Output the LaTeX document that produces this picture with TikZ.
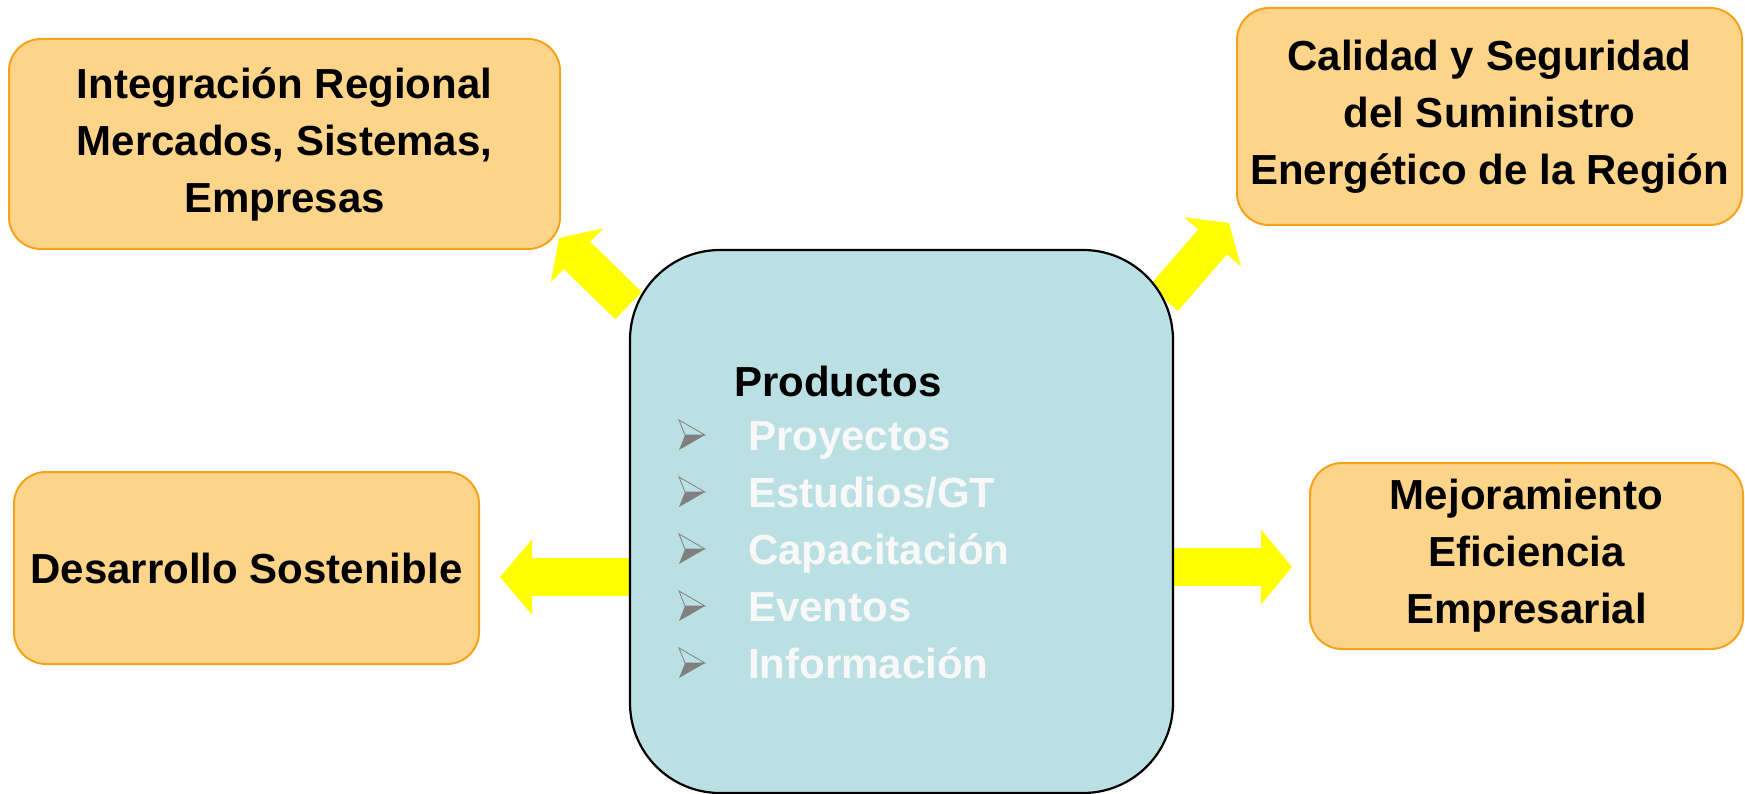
\documentclass[tikz,border=0pt]{standalone}
\usepackage{fontspec}
\setmainfont{Liberation Sans}
\usetikzlibrary{arrows.meta,backgrounds}

\definecolor{goalfill}{HTML}{FCD48A}
\definecolor{goalline}{HTML}{F7A21B}
\definecolor{prodfill}{HTML}{BBE0E3}
\definecolor{itemtext}{HTML}{F8F8F8}
\definecolor{markgray}{HTML}{808080}
\definecolor{flowyellow}{HTML}{FFFF00}

\newcommand{\labelfont}{\fontsize{42}{57}\selectfont\bfseries}

\tikzset{
  goal/.style={draw=goalline, fill=goalfill, line width=2pt,
    rounded corners=32pt, align=center, inner sep=0pt, font=\labelfont},
  prodbox/.style={draw=black, fill=prodfill, line width=2.2pt,
    rounded corners=90pt, minimum width=543pt, minimum height=543pt, inner sep=0pt},
  itemlabel/.style={inner sep=0pt, font=\labelfont, text=itemtext, anchor=base west},
  headlabel/.style={inner sep=0pt, font=\labelfont, text=black, anchor=base west},
  flow/.style={draw=flowyellow, line width=38pt,
    -{Triangle[length=#1, width=75pt, line width=0pt]}},
  flow/.default=31pt,
  bulletmark/.pic={
    \draw[markgray, line width=0.8pt, line join=miter] (-13,-15) -- (13,0) -- (-7,0) -- cycle;
    \fill[markgray] (-7,0) -- (13,0) -- (-13,15) -- cycle;
  }
}

\begin{document}
\begin{tikzpicture}[x=1pt, y=-1pt]
  \useasboundingbox (0,0) rectangle (1745,794);

  % central box with the list of products
  \node[prodbox] (prod) at (901.5,521.5) {};
  \node[headlabel] (head) at (734,396) {Productos};

  \pic (m1) at (692,435) {bulletmark};
  \pic (m2) at (692,492) {bulletmark};
  \pic (m3) at (692,549) {bulletmark};
  \pic (m4) at (692,606) {bulletmark};
  \pic (m5) at (692,663) {bulletmark};

  \node[itemlabel] (i1) at (748,450) {Proyectos};
  \node[itemlabel] (i2) at (748,507) {Estudios/GT};
  \node[itemlabel] (i3) at (748,564) {Capacitación};
  \node[itemlabel] (i4) at (748,621) {Eventos};
  \node[itemlabel] (i5) at (748,678) {Información};

  % outcome boxes
  \node[goal, minimum width=551pt, minimum height=210pt] (integ) at (284.5,144)
    {Integración Regional\\Mercados, Sistemas,\\Empresas};
  \node[goal, minimum width=505pt, minimum height=217pt] (calid) at (1489.5,116.5)
    {Calidad y Seguridad\\del Suministro\\Energético de la Región};
  \node[goal, minimum width=465pt, minimum height=192pt] (desar) at (246.5,568)
    {Desarrollo Sostenible};
  \node[goal, minimum width=433pt, minimum height=186pt] (mejor) at (1526.5,556)
    {Mejoramiento\\Eficiencia\\Empresarial};

  % arrow ends
  \coordinate (tl-s) at (628.5,305.5);
  \coordinate (tl-e) at (559,238);
  \coordinate (tr-s) at (1163.5,298.5);
  \coordinate (tr-e) at (1229,223);
  \coordinate (l-e) at (500,577);
  \coordinate (r-e) at (1292,567);

  % yellow block arrows out of the central box
  \begin{pgfonlayer}{background}
    \draw[flow=25pt] (tl-s) -- (tl-e);
    \draw[flow=25pt] (tr-s) -- (tr-e);
    \draw[flow=32pt] (prod.west |- l-e) -- (l-e);
    \draw[flow=31pt] (prod.east |- r-e) -- (r-e);
  \end{pgfonlayer}
\end{tikzpicture}
\end{document}
